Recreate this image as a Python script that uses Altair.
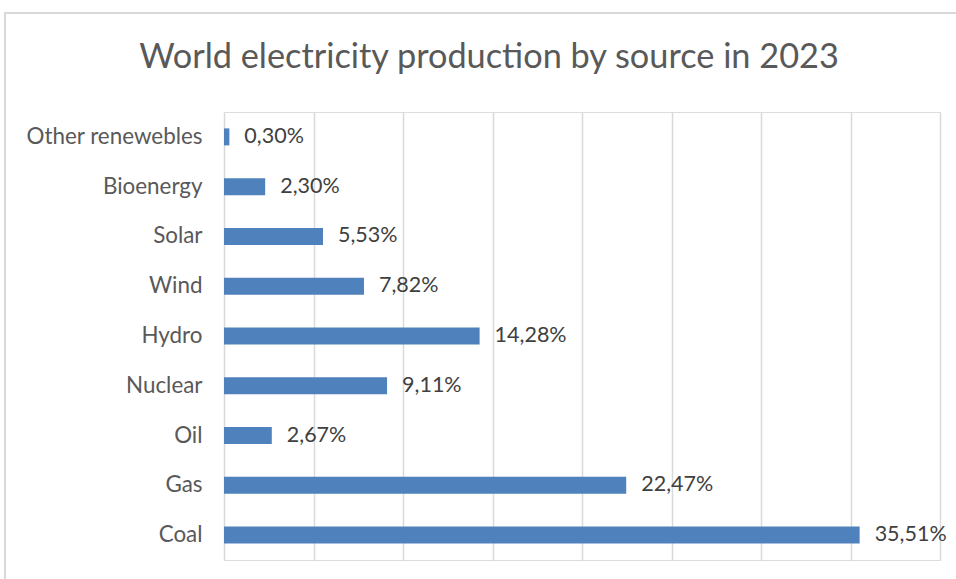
import altair as alt
import pandas as pd

# Share of world electricity production by source, 2023 (percent)
sources = ["Other renewebles", "Bioenergy", "Solar", "Wind", "Hydro",
           "Nuclear", "Oil", "Gas", "Coal"]
shares = [0.30, 2.30, 5.53, 7.82, 14.28, 9.11, 2.67, 22.47, 35.51]
title_text = "World electricity production by source in 2023"

df = pd.DataFrame({"source": sources, "share": shares})

FONT = "Lato"
BAR = "#4f81bd"
GRID = "#d9d9d9"

y_enc = alt.Y(
    "source:N",
    sort=sources,
    title=None,
    axis=alt.Axis(
        labelFont=FONT, labelFontSize=22.4, labelColor="#595959",
        labelPadding=22, ticks=False, domain=False, grid=False,
    ),
)
x_enc = alt.X(
    "share:Q",
    title=None,
    scale=alt.Scale(domain=[0, 40], nice=False),
    axis=alt.Axis(
        values=[0, 5, 10, 15, 20, 25, 30, 35, 40],
        labels=False, ticks=False, domain=False,
        grid=True, gridColor=GRID, gridWidth=1.5,
    ),
)

bars = alt.Chart(df).mark_bar(size=17, color=BAR).encode(y=y_enc, x=x_enc)

labels = alt.Chart(df).transform_calculate(
    label="replace(format(datum.share, '.2f'), '.', ',') + '%'"
).mark_text(
    align="left", baseline="middle", dx=15,
    font=FONT, fontSize=21.5, color="#404040",
).encode(y=alt.Y("source:N", sort=sources), x="share:Q", text="label:N")

# light frame around the whole chart area
frame = alt.Chart(df).mark_rect(
    fill=None, stroke=GRID, strokeWidth=1.5
).encode(
    x=alt.value(-219), x2=alt.value(760),
    y=alt.value(-99), y2=alt.value(480),
)

# chart heading, centred over the chart area
heading = alt.Chart(pd.DataFrame({"t": [title_text]})).mark_text(
    align="center", baseline="alphabetic",
    font=FONT, fontSize=34.3, color="#595959",
).encode(x=alt.value(265), y=alt.value(-44), text="t:N")

chart = alt.layer(frame, bars, labels, heading).properties(
    width=716,
    height=448,
    autosize=alt.AutoSizeParams(type="none"),
    padding={"left": 224, "top": 112, "right": 16, "bottom": 19},
).configure_view(stroke=None).configure(background="white")

chart.save("out.html", embed_options={"renderer": "svg", "actions": False})
